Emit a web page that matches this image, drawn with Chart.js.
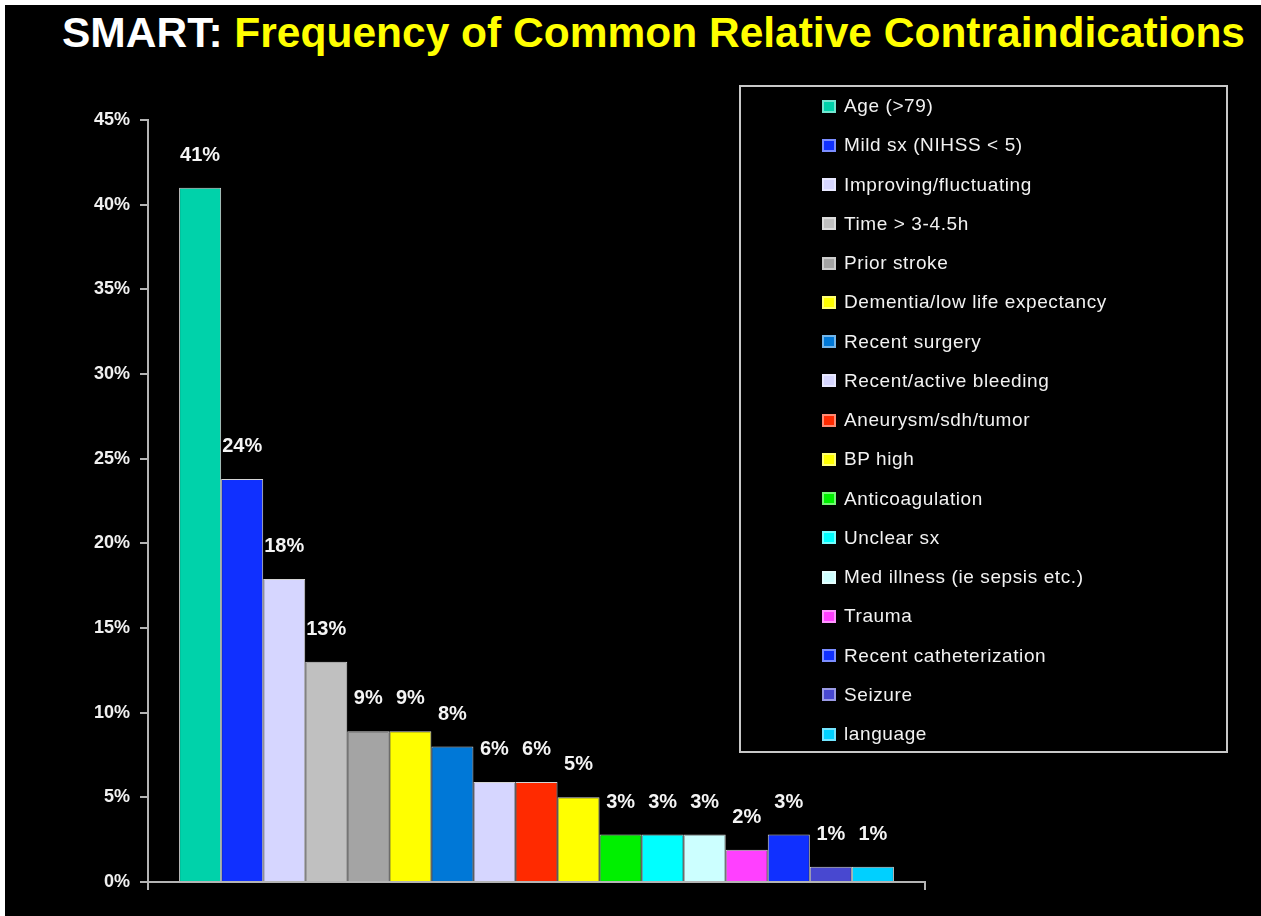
<!DOCTYPE html>
<html>
<head>
<meta charset="utf-8">
<title>SMART: Frequency of Common Relative Contraindications</title>
<script src="https://cdn.jsdelivr.net/npm/chart.js@4/dist/chart.umd.min.js"></script>
<style>
  html, body {
    margin: 0;
    padding: 0;
    background: #ffffff;
    width: 1261px;
    height: 916px;
    overflow: hidden;
    font-family: 'Liberation Sans', Arial, sans-serif;
  }
  #frame {
    position: absolute;
    left: 5px;
    top: 5px;
    width: 1256px;
    height: 911px;
    background: #000000;
  }
  #title {
    position: absolute;
    left: 62px;
    top: 12px;
    font-size: 42px;
    line-height: 42px;
    font-weight: bold;
    white-space: nowrap;
    transform-origin: left top;
    color: #ffff00;
  }
  #title .lead { color: #ffffff; }
  #chartBox {
    position: absolute;
    left: 0;
    top: 0;
    width: 1261px;
    height: 916px;
  }
  #legend {
    position: absolute;
    left: 739px;
    top: 85px;
    width: 485px;
    height: 664px;
    border: 2px solid #c8c8c8;
  }
  .legend-item {
    position: absolute;
    left: 81px;
    height: 20px;
    display: flex;
    align-items: center;
    color: #f2f2f2;
    font-size: 19px;
    letter-spacing: 0.6px;
    white-space: nowrap;
  }
  .legend-swatch {
    width: 14px;
    height: 13px;
    margin-right: 8px;
    box-shadow: inset 0 0 0 2px rgba(255, 255, 255, 0.45);
  }
</style>
</head>
<body>
<div id="frame"></div>
<div id="title"><span class="lead">SMART:</span> Frequency of Common Relative Contraindications</div>
<div id="chartBox"><canvas id="smartChart"></canvas></div>
<div id="legend"></div>
<script>
const contraindications = [
  'Age (>79)',
  'Mild sx (NIHSS < 5)',
  'Improving/fluctuating',
  'Time > 3-4.5h',
  'Prior stroke',
  'Dementia/low life expectancy',
  'Recent surgery',
  'Recent/active bleeding',
  'Aneurysm/sdh/tumor',
  'BP high',
  'Anticoagulation',
  'Unclear sx',
  'Med illness (ie sepsis etc.)',
  'Trauma',
  'Recent catheterization',
  'Seizure',
  'language',
];
const frequencies = [41, 23.8, 17.9, 13, 8.9, 8.9, 8, 5.9, 5.9, 5, 2.8, 2.8, 2.8, 1.9, 2.8, 0.9, 0.9];
const barColors = [
  '#00d2aa', '#1030ff', '#d6d6ff', '#c0c0c0', '#a4a4a4', '#ffff00',
  '#0078d7', '#d6d6ff', '#ff2a00', '#ffff00', '#00f000', '#00ffff',
  '#ccffff', '#ff40ff', '#1030ff', '#4848d0', '#00d0ff',
];
const categories = [''];
const yTicks = [0, 5, 10, 15, 20, 25, 30, 35, 40, 45];

const fontFamily = "'Liberation Sans', Arial, sans-serif";

const fitTitle = () => {
  const title = document.getElementById('title');
  const width = title.getBoundingClientRect().width;
  title.style.transform = `scaleX(${1183 / width})`;
};

const buildLegend = () => {
  const legend = document.getElementById('legend');
  contraindications.forEach((name, i) => {
    const item = document.createElement('div');
    item.className = 'legend-item';
    item.style.top = `${104 - 85 - 10 + i * 39.25}px`;
    const swatch = document.createElement('span');
    swatch.className = 'legend-swatch';
    swatch.style.background = barColors[i];
    const text = document.createElement('span');
    text.textContent = name;
    item.appendChild(swatch);
    item.appendChild(text);
    legend.appendChild(item);
  });
};

// percent labels above each bar
const valueLabels = {
  id: 'valueLabels',
  afterDatasetsDraw(chart) {
    const { ctx } = chart;
    ctx.save();
    ctx.font = `bold 20px ${fontFamily}`;
    ctx.fillStyle = '#f4f4f4';
    ctx.textAlign = 'center';
    ctx.textBaseline = 'alphabetic';
    chart.data.datasets.forEach((dataset, i) => {
      const bar = chart.getDatasetMeta(i).data[0];
      if (!bar) return;
      ctx.fillText(`${Math.round(dataset.data[0])}%`, bar.x, bar.y - 27);
    });
    ctx.restore();
  },
};

const renderChart = () => {
  const ctx = document.getElementById('smartChart');
  new Chart(ctx, {
    type: 'bar',
    data: {
      labels: categories,
      datasets: contraindications.map((name, i) => ({
        label: name,
        data: [frequencies[i]],
        backgroundColor: barColors[i],
        borderColor: '#d4d4d4',
        borderWidth: 1,
      })),
    },
    options: {
      responsive: true,
      maintainAspectRatio: false,
      animation: false,
      layout: {
        padding: { top: 120, right: 336, bottom: 0, left: 0 },
      },
      datasets: {
        bar: {
          categoryPercentage: 0.92,
          barPercentage: 1,
        },
      },
      plugins: {
        legend: { display: false },
        tooltip: { enabled: false },
      },
      scales: {
        x: {
          offset: true,
          afterFit: (axis) => { axis.height = 34; },
          ticks: { display: false },
          grid: {
            offset: true,
            drawOnChartArea: false,
            tickLength: 8,
            color: '#b4b4b4',
            lineWidth: 2,
          },
          border: { color: '#b4b4b4', width: 2 },
        },
        y: {
          min: 0,
          max: 45,
          afterFit: (axis) => { axis.width = 148; },
          afterBuildTicks: (axis) => {
            axis.ticks = yTicks.map((v) => ({ value: v }));
          },
          ticks: {
            padding: 10,
            color: '#f0f0f0',
            font: { family: fontFamily, size: 18, weight: 'bold' },
            callback: (v) => `${v}%`,
          },
          grid: {
            drawOnChartArea: false,
            tickLength: 8,
            color: '#b4b4b4',
            lineWidth: 2,
          },
          border: { color: '#b4b4b4', width: 2 },
        },
      },
    },
    plugins: [valueLabels],
  });
};

document.addEventListener('DOMContentLoaded', () => {
  fitTitle();
  buildLegend();
  renderChart();
});
</script>
</body>
</html>
